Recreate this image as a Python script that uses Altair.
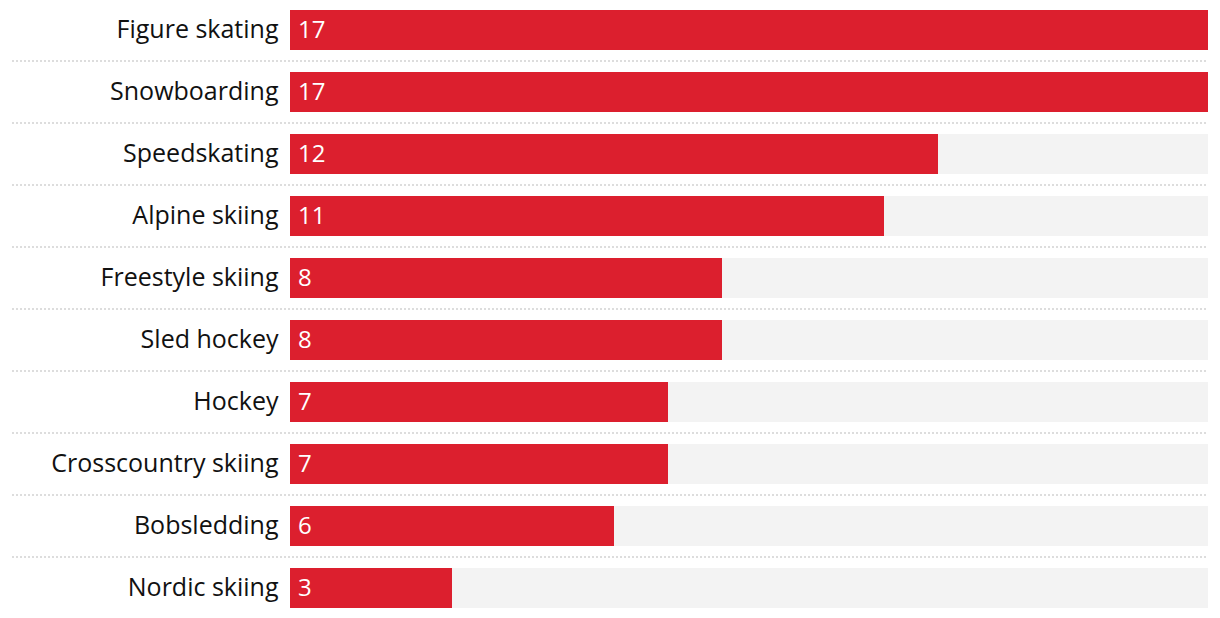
import altair as alt
import pandas as pd

sports = ["Figure skating", "Snowboarding", "Speedskating", "Alpine skiing",
          "Freestyle skiing", "Sled hockey", "Hockey", "Crosscountry skiing",
          "Bobsledding", "Nordic skiing"]
counts = [17, 17, 12, 11, 8, 8, 7, 7, 6, 3]

full = max(counts)
df = pd.DataFrame({"sport": sports, "count": counts, "full": [full] * len(sports)})
df_rules = df.iloc[:-1]

FONT = "Open Sans"
RED = "#DC1F2E"

y = alt.Y("sport:N", sort=sports,
          scale=alt.Scale(paddingInner=22 / 62, paddingOuter=2 / 62),
          axis=alt.Axis(title=None, ticks=False, domain=False, labelPadding=12,
                        labelFontSize=25, labelFont=FONT, labelColor="#111",
                        labelLimit=400))
xscale = alt.Scale(domain=[0, full])

bg = alt.Chart(df).mark_bar(color="#F3F3F3").encode(
    y=y, x=alt.X("full:Q", scale=xscale, axis=None))
bars = alt.Chart(df).mark_bar(color=RED).encode(
    y=y, x=alt.X("count:Q", scale=xscale, axis=None))
labels = alt.Chart(df).mark_text(align="left", baseline="middle", dx=8, dy=1,
                                 color="white", fontSize=24, font=FONT).encode(
    y=y, x=alt.value(0), text="count:Q")
rules = alt.Chart(df_rules).mark_rule(color="#DDDDDD", strokeWidth=2,
                                      strokeDash=[2, 2], yOffset=11).encode(
    y=alt.Y("sport:N", sort=sports, bandPosition=1),
    x=alt.value(-278), x2=alt.value(918))

chart = alt.layer(bg, bars, labels, rules).properties(
    width=918, height=602,
    autosize=alt.AutoSizeParams(type="none"),
    padding={"left": 282, "top": 0, "right": 0, "bottom": 0},
).configure_view(stroke=None)

chart.save("out.html", embed_options={"renderer": "svg", "actions": False})
